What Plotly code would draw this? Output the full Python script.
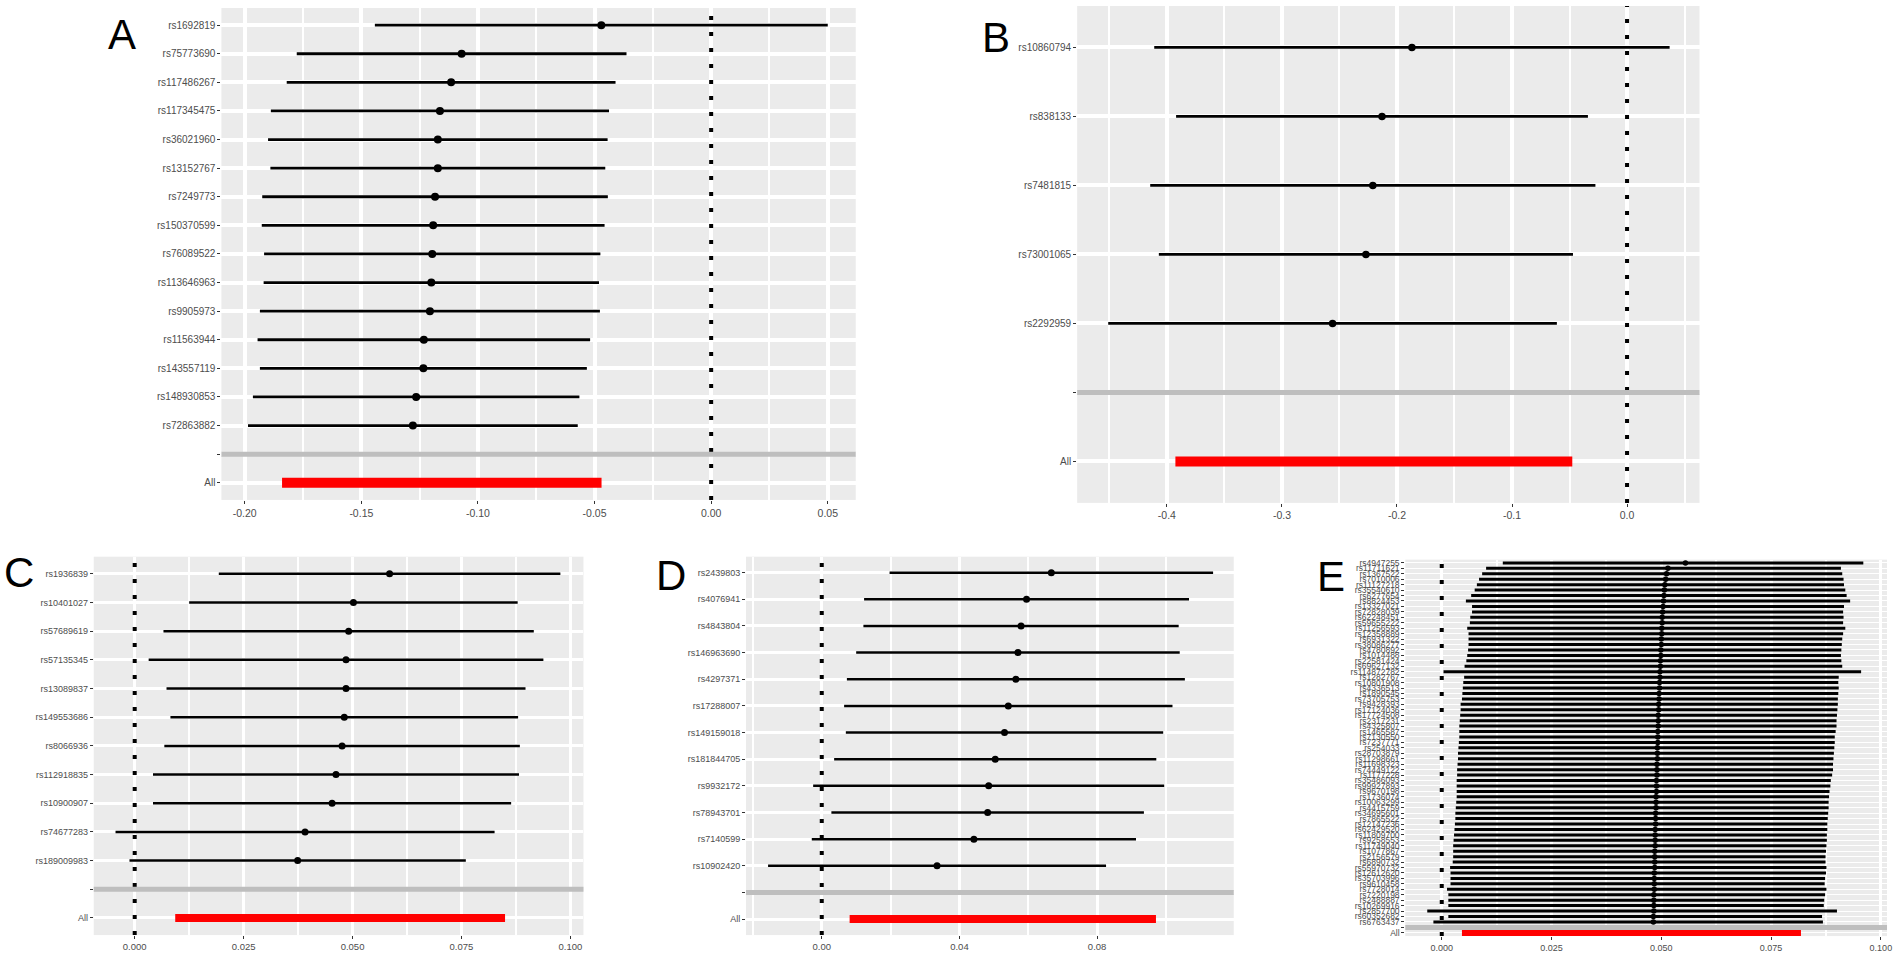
import plotly.graph_objects as go

W, H = 1902, 957

# ---------------- Panel A ----------------
snps_A = ["rs1692819", "rs75773690", "rs117486267", "rs117345475", "rs36021960",
          "rs13152767", "rs7249773", "rs150370599", "rs76089522", "rs113646963",
          "rs9905973", "rs11563944", "rs143557119", "rs148930853", "rs72863882"]
b_A = [-0.0471, -0.1070, -0.1115, -0.1163, -0.1172, -0.1172, -0.1184, -0.1192,
       -0.1196, -0.1200, -0.1206, -0.1232, -0.1234, -0.1265, -0.1279]
lo_A = [-0.1442, -0.1777, -0.1820, -0.1888, -0.1900, -0.1890, -0.1925, -0.1927,
        -0.1917, -0.1919, -0.1935, -0.1945, -0.1935, -0.1965, -0.1986]
hi_A = [0.0500, -0.0363, -0.0410, -0.0438, -0.0444, -0.0454, -0.0443, -0.0457,
        -0.0475, -0.0481, -0.0477, -0.0519, -0.0533, -0.0565, -0.0572]
all_A = [-0.1155, -0.1840, -0.0470]  # b, lo, hi
ticks_A = [-0.20, -0.15, -0.10, -0.05, 0.00, 0.05]
labels_A = ["-0.20", "-0.15", "-0.10", "-0.05", "0.00", "0.05"]

# ---------------- Panel B ----------------
snps_B = ["rs10860794", "rs838133", "rs7481815", "rs73001065", "rs2292959"]
b_B = [-0.187, -0.213, -0.221, -0.227, -0.256]
lo_B = [-0.411, -0.392, -0.4145, -0.407, -0.451]
hi_B = [0.037, -0.034, -0.0275, -0.047, -0.061]
all_B = [-0.220, -0.3926, -0.0476]
ticks_B = [-0.4, -0.3, -0.2, -0.1, 0.0]
labels_B = ["-0.4", "-0.3", "-0.2", "-0.1", "0.0"]

# ---------------- Panel C ----------------
snps_C = ["rs1936839", "rs10401027", "rs57689619", "rs57135345", "rs13089837",
          "rs149553686", "rs8066936", "rs112918835", "rs10900907", "rs74677283",
          "rs189009983"]
b_C = [0.0585, 0.0502, 0.0491, 0.0485, 0.0485, 0.0481, 0.0476, 0.0462, 0.0453,
       0.0391, 0.0374]
lo_C = [0.0193, 0.0125, 0.0066, 0.0032, 0.0073, 0.0082, 0.0068, 0.0042, 0.0042,
        -0.0044, -0.0012]
hi_C = [0.0977, 0.0879, 0.0916, 0.0938, 0.0897, 0.0880, 0.0884, 0.0882, 0.0864,
        0.0826, 0.0760]
all_C = [0.0472, 0.0093, 0.0850]
ticks_C = [0.000, 0.025, 0.050, 0.075, 0.100]
labels_C = ["0.000", "0.025", "0.050", "0.075", "0.100"]

# ---------------- Panel D ----------------
snps_D = ["rs2439803", "rs4076941", "rs4843804", "rs146963690", "rs4297371",
          "rs17288007", "rs149159018", "rs181844705", "rs9932172", "rs78943701",
          "rs7140599", "rs10902420"]
b_D = [0.0667, 0.0595, 0.0579, 0.0570, 0.0564, 0.0542, 0.0531, 0.0504, 0.0485,
       0.0482, 0.0442, 0.0335]
lo_D = [0.0197, 0.0123, 0.0121, 0.0100, 0.0073, 0.0065, 0.0070, 0.0036, -0.0025,
        0.0028, -0.0029, -0.0156]
hi_D = [0.1137, 0.1067, 0.1037, 0.1040, 0.1055, 0.1019, 0.0992, 0.0972, 0.0995,
        0.0936, 0.0913, 0.0826]
all_D = [0.0526, 0.0081, 0.0971]
ticks_D = [0.00, 0.04, 0.08]
labels_D = ["0.00", "0.04", "0.08"]

# ---------------- Panel E ----------------
snps_E = ["rs4947255", "rs11711621", "rs1367522", "rs7010006", "rs11127218",
          "rs35540610", "rs6277654", "rs8824453", "rs13327021", "rs72828039",
          "rs62248451", "rs59655222", "rs11256593", "rs12358889", "rs6931322",
          "rs38086277", "rs4780892", "rs1014488", "rs22581424", "rs69627132",
          "rs114872782", "rs1282767", "rs10801908", "rs4336513", "rs1890545",
          "rs73705753", "rs9428393", "rs17124036", "rs17724508", "rs2317231",
          "rs4325807", "rs1465587", "rs7130550", "rs7237771", "rs254033",
          "rs28703879", "rs11298661", "rs11698323", "rs74449122", "rs1177228",
          "rs35486093", "rs99927893", "rs9670198", "rs1736074", "rs10063299",
          "rs4415759", "rs34695601", "rs7865522", "rs12147236", "rs62429520",
          "rs11809700", "rs9258553", "rs11749040", "rs1077867", "rs2156579",
          "rs6890732", "rs55970732", "rs12612620", "rs35703996", "rs9610458",
          "rs7728014", "rs7220198", "rs2488887", "rs10269916", "rs2857700",
          "rs60352682", "rs6763437"]
b_E = [0.0555, 0.0515, 0.0512, 0.0510, 0.0508, 0.0507, 0.0506, 0.0505, 0.0504,
       0.0503, 0.0502, 0.0502, 0.0501, 0.0501, 0.0500, 0.0500, 0.0499, 0.0499,
       0.0498, 0.0498, 0.0497, 0.0497, 0.0496, 0.0496, 0.0495, 0.0495, 0.0494,
       0.0494, 0.0493, 0.0493, 0.0493, 0.0492, 0.0492, 0.0492, 0.0491, 0.0491,
       0.0491, 0.0490, 0.0490, 0.0490, 0.0489, 0.0489, 0.0489, 0.0488, 0.0488,
       0.0488, 0.0487, 0.0487, 0.0487, 0.0486, 0.0486, 0.0486, 0.0486, 0.0485,
       0.0485, 0.0485, 0.0485, 0.0484, 0.0484, 0.0484, 0.0484, 0.0483, 0.0483,
       0.0483, 0.0483, 0.0482, 0.0482]
lo_E = [0.0139, 0.0101, 0.0092, 0.0085, 0.0080, 0.0075, 0.0067, 0.0055, 0.0069,
        0.0069, 0.0065, 0.0064, 0.0058, 0.0061, 0.0061, 0.0061, 0.0060, 0.0058,
        0.0056, 0.0052, 0.0004, 0.0051, 0.0049, 0.0048, 0.0047, 0.0046, 0.0043,
        0.0043, 0.0042, 0.0041, 0.0040, 0.0040, 0.0040, 0.0039, 0.0038, 0.0037,
        0.0037, 0.0036, 0.0035, 0.0035, 0.0034, 0.0034, 0.0034, 0.0034, 0.0033,
        0.0032, 0.0031, 0.0031, 0.0030, 0.0029, 0.0028, 0.0027, 0.0026, 0.0026,
        0.0026, 0.0025, 0.0019, 0.0020, 0.0020, 0.0020, 0.0012, 0.0015, 0.0015,
        0.0015, -0.0033, 0.0015, -0.0019]
hi_E = [0.0960, 0.0909, 0.0912, 0.0915, 0.0916, 0.0919, 0.0922, 0.0930, 0.0916,
        0.0914, 0.0915, 0.0914, 0.0919, 0.0914, 0.0912, 0.0911, 0.0910, 0.0909,
        0.0910, 0.0912, 0.0955, 0.0904, 0.0903, 0.0904, 0.0903, 0.0902, 0.0902,
        0.0901, 0.0900, 0.0899, 0.0899, 0.0897, 0.0895, 0.0895, 0.0894, 0.0893,
        0.0892, 0.0891, 0.0891, 0.0889, 0.0886, 0.0885, 0.0883, 0.0882, 0.0881,
        0.0881, 0.0880, 0.0879, 0.0878, 0.0878, 0.0877, 0.0877, 0.0876, 0.0875,
        0.0874, 0.0874, 0.0876, 0.0875, 0.0873, 0.0872, 0.0876, 0.0873, 0.0871,
        0.0870, 0.0900, 0.0866, 0.0868]
all_E = [0.0430, 0.0046, 0.0818]
ticks_E = [0.000, 0.025, 0.050, 0.075, 0.100]
labels_E = ["0.000", "0.025", "0.050", "0.075", "0.100"]

# ---------------- styling / layout (pixel boxes of each panel) ----------------
WIDE = "Liberation Sans, Arial, sans-serif"
NARROW = "Liberation Sans Narrow, Arial Narrow, Liberation Sans, sans-serif"

panels = [
    dict(letter="A", snps=snps_A, b=b_A, lo=lo_A, hi=hi_A, all=all_A,
         ticks=ticks_A, labels=labels_A, xr=[-0.210, 0.062], minor=0.025,
         box=(222, 858, 6, 500), lpos=(122, 33), font=WIDE, fs=10,
         pt=8, lw=2.8, red=10, gmaj=3.5, gmin=1.8, grow=3.5),
    dict(letter="B", snps=snps_B, b=b_B, lo=lo_B, hi=hi_B, all=all_B,
         ticks=ticks_B, labels=labels_B, xr=[-0.478, 0.063], minor=0.05,
         box=(1080, 1704, 4, 503), lpos=(999, 36), font=WIDE, fs=10,
         pt=7.5, lw=2.8, red=10, gmaj=3.5, gmin=1.8, grow=3.5),
    dict(letter="C", snps=snps_C, b=b_C, lo=lo_C, hi=hi_C, all=all_C,
         ticks=ticks_C, labels=labels_C, xr=[-0.0094, 0.1030], minor=0.0125,
         box=(94, 585, 557, 937), lpos=(19, 573), font=NARROW, fs=9,
         pt=7, lw=2.5, red=8, gmaj=3.2, gmin=1.8, grow=3.2),
    dict(letter="D", snps=snps_D, b=b_D, lo=lo_D, hi=hi_D, all=all_D,
         ticks=ticks_D, labels=labels_D, xr=[-0.022, 0.1197], minor=0.02,
         box=(748, 1237, 557, 937), lpos=(673, 576), font=NARROW, fs=9,
         pt=7, lw=2.5, red=8, gmaj=3.2, gmin=1.8, grow=3.2),
    dict(letter="E", snps=snps_E, b=b_E, lo=lo_E, hi=hi_E, all=all_E,
         ticks=ticks_E, labels=labels_E, xr=[-0.0083, 0.1014], minor=0.0125,
         box=(1409, 1892, 560, 938), lpos=(1335, 577), font=NARROW, fs=8.5,
         pt=5.5, lw=3, red=7, gmaj=3, gmin=1.5, grow=1.2),
]

fig = go.Figure()
shapes = []
annotations = []
layout = {}

for k, p in enumerate(panels, start=1):
    xa = "x" if k == 1 else f"x{k}"
    ya = "y" if k == 1 else f"y{k}"
    n = len(p["snps"])
    ypos = [n + 1 - i for i in range(n)]
    tickvals = ypos + [1, 0]
    ticktext = p["snps"] + ["", "All"]

    # leave-one-out estimates with CIs
    fig.add_trace(go.Scatter(
        x=p["b"], y=ypos, mode="markers", xaxis=xa, yaxis=ya,
        marker=dict(color="black", size=p["pt"]),
        error_x=dict(type="data", symmetric=False,
                     array=[h - v for h, v in zip(p["hi"], p["b"])],
                     arrayminus=[v - l for v, l in zip(p["b"], p["lo"])],
                     color="black", thickness=p["lw"], width=0),
        showlegend=False, hoverinfo="skip"))

    # overall ("All") estimate
    ab, alo, ahi = p["all"]
    fig.add_trace(go.Scatter(
        x=[ab], y=[0], mode="markers", xaxis=xa, yaxis=ya,
        marker=dict(color="red", size=2),
        error_x=dict(type="data", symmetric=False, array=[ahi - ab],
                     arrayminus=[ab - alo], color="red",
                     thickness=p["red"], width=0),
        showlegend=False, hoverinfo="skip"))

    x0, x1, y0, y1 = p["box"]
    xdom = [x0 / W, x1 / W]
    ydom = [1 - y1 / H, 1 - y0 / H]
    layout["xaxis" if k == 1 else f"xaxis{k}"] = dict(
        domain=xdom, range=p["xr"], anchor=ya,
        tickmode="array", tickvals=p["ticks"], ticktext=p["labels"],
        ticks="outside", ticklen=3, tickwidth=1, tickcolor="#333333",
        tickfont=dict(family=p["font"], size=p["fs"] + 0.5, color="#4D4D4D"),
        showgrid=True, gridcolor="white", gridwidth=p["gmaj"],
        minor=dict(tickmode="linear", tick0=0, dtick=p["minor"],
                   showgrid=True, gridcolor="white", gridwidth=p["gmin"],
                   ticks=""),
        zeroline=False, showline=False, fixedrange=True)
    layout["yaxis" if k == 1 else f"yaxis{k}"] = dict(
        domain=ydom, range=[-0.6, n + 1.6], anchor=xa,
        tickmode="array", tickvals=tickvals, ticktext=ticktext,
        ticks="outside", ticklen=3, tickwidth=1, tickcolor="#333333",
        tickfont=dict(family=p["font"], size=p["fs"], color="#4D4D4D"),
        showgrid=True, gridcolor="white", gridwidth=p["grow"],
        zeroline=False, showline=False, fixedrange=True)

    # dotted reference line at 0
    shapes.append(dict(type="line", xref=xa, yref=f"{ya} domain",
                       x0=0, x1=0, y0=0, y1=1, layer="above",
                       line=dict(color="black", width=4, dash="4px,12px")))
    # grey separator at the blank slot
    shapes.append(dict(type="line", xref=f"{xa} domain", yref=ya,
                       x0=0, x1=1, y0=1, y1=1, layer="above",
                       line=dict(color="#BEBEBE", width=5)))
    annotations.append(dict(text=p["letter"], xref="paper", yref="paper",
                            x=p["lpos"][0] / W, y=1 - p["lpos"][1] / H,
                            xanchor="center", yanchor="middle", showarrow=False,
                            font=dict(family=WIDE, size=42, color="black")))

fig.update_layout(
    width=W, height=H, margin=dict(l=0, r=0, t=0, b=0),
    paper_bgcolor="white", plot_bgcolor="#EBEBEB",
    shapes=shapes, annotations=annotations, **layout)

fig.write_html("out.html", config={"displayModeBar": False})

# remove the browser's default body margin so the figure sits at the page origin
with open("out.html", "r", encoding="utf-8") as f:
    html = f.read()
html = html.replace("<body>", '<body style="margin:0;overflow:hidden">', 1)
with open("out.html", "w", encoding="utf-8") as f:
    f.write(html)
